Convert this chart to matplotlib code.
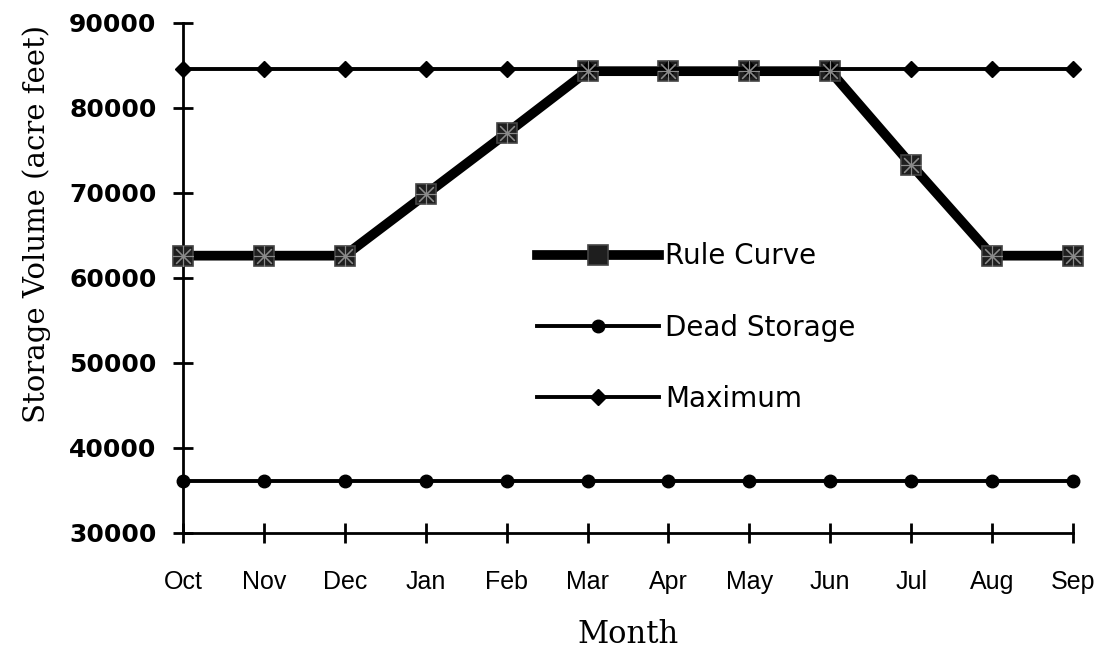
import numpy as np
import matplotlib
matplotlib.use('Agg')
import matplotlib.pyplot as plt

# month labels (water year, Oct -> Sep)
months = ['Oct', 'Nov', 'Dec', 'Jan', 'Feb', 'Mar', 'Apr', 'May', 'Jun', 'Jul', 'Aug', 'Sep']

# storage values (acre feet)
rule_curve = [62600, 62600, 62600, 69800, 77000, 84300, 84300, 84300, 84300, 73300, 62600, 62600]
dead_storage = [36100] * 12
maximum = [84500] * 12

y_ticks = [30000, 40000, 50000, 60000, 70000, 80000, 90000]

fig = plt.figure(figsize=(10.95, 6.49), dpi=100)
ax = fig.add_axes([0.167, 0.179, 0.813, 0.786])

x = np.arange(len(months))

# rule curve: thick line, dark square + starburst marker
ax.plot(x, rule_curve, color='black', lw=7, marker='s', ms=15,
        mfc='#1e1e1e', mec='#444444', mew=1.2, label='Rule Curve', zorder=3)
ax.plot(x, rule_curve, ls='none', marker=(8, 2, 0), ms=15, mec='#8a8a8a',
        mew=0.8, zorder=4)
ax.plot(x, dead_storage, color='black', lw=2.8, marker='o', ms=9,
        mfc='black', mec='black', label='Dead Storage', zorder=3)
ax.plot(x, maximum, color='black', lw=2.8, marker='D', ms=8,
        mfc='black', mec='black', label='Maximum', zorder=3)

ax.set_xlim(0, len(months) - 1)
ax.set_ylim(30000, 90000)
ax.set_yticks(y_ticks)
ax.set_xticks(x)
ax.set_xticklabels(months, fontsize=18, family='Liberation Sans')
ax.set_yticklabels([str(v) for v in y_ticks], fontsize=18,
                   family='DejaVu Sans', fontweight='bold')

for s in ['top', 'right']:
    ax.spines[s].set_visible(False)
for s in ['left', 'bottom']:
    ax.spines[s].set_linewidth(2)
ax.tick_params(direction='inout', length=14, width=2)
ax.tick_params(axis='x', pad=20)
ax.tick_params(axis='y', pad=12)
for ln in ax.lines:
    ln.set_clip_on(False)

ax.set_xlabel('Month', fontsize=22, family='DejaVu Serif', labelpad=18)
ax.set_ylabel('Storage Volume (acre feet)', fontsize=21, family='DejaVu Serif')
# label sits above the axis middle in the original
ax.yaxis.set_label_coords(-0.148, 0.606)

leg = ax.legend(loc='center left', bbox_to_anchor=(0.37, 0.402), frameon=False,
                handlelength=4.4, handletextpad=0.2, labelspacing=1.56,
                prop={'family': 'DejaVu Sans', 'size': 20})

fig.savefig('out.png', dpi=100, facecolor='white')
